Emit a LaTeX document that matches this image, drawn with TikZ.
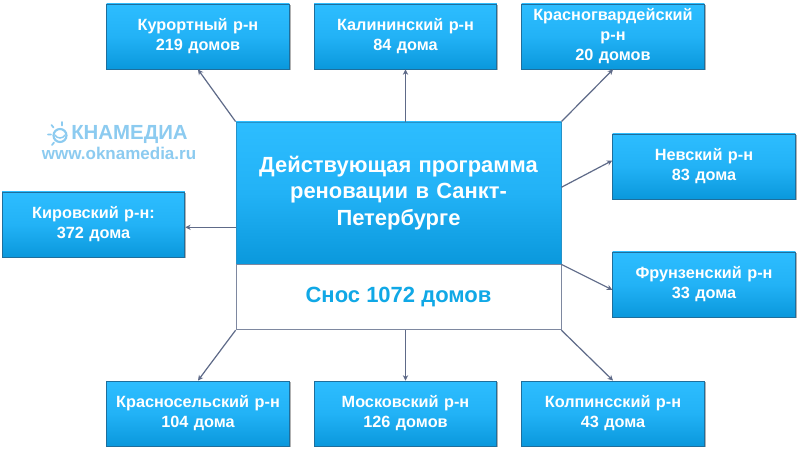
\documentclass[tikz,border=0pt]{standalone}
\usepackage{fontspec}
\setmainfont{Liberation Sans}
\usetikzlibrary{shadows,arrows.meta,calc}
\definecolor{boxtop}{HTML}{2DBDFF}
\definecolor{boxmid}{HTML}{22B2F6}
\definecolor{boxbot}{HTML}{0A98DC}
\definecolor{boxedge}{HTML}{1E6E9C}
\definecolor{linkc}{HTML}{5E6A88}
\definecolor{logoc}{HTML}{8CCBF0}
\definecolor{snosc}{HTML}{10A8E6}
\tikzset{
  x=0.75pt,y=-0.75pt,
  blue fill/.style={top color=boxtop,bottom color=boxbot,middle color=boxmid},
  distbox/.style={blue fill,draw=boxedge,line width=0.7pt,minimum width=137pt,minimum height=48.75pt,
    inner sep=0pt,align=center,text=white,font=\bfseries\fontsize{12.2pt}{15pt}\selectfont,text width=134pt,
    drop shadow={shadow xshift=0.9pt,shadow yshift=-0.9pt,fill=black,opacity=0.3}},
  link/.style={draw=linkc,line width=0.9pt,-{Stealth[length=4pt,width=4pt]}},
}
\begin{document}
\begin{tikzpicture}
\useasboundingbox (0,0) rectangle (800,449);
\fill[white] (0,0) rectangle (800,449);
% districts
\node[distbox] (kur) at (198,36.5) {Курортный р-н\\219 домов};
\node[distbox] (kal) at (405.5,36.5) {Калининский р-н\\84 дома};
\node[distbox] (gva) at (613,36.5) {Красногвардейский\\р-н\\20 домов};
\node[distbox] (nev) at (704,166.5) {Невский р-н\\83 дома};
\node[distbox] (fru) at (704,284.5) {Фрунзенский р-н\\33 дома};
\node[distbox] (kir) at (93.5,224.5) {Кировский р-н:\\372 дома};
\node[distbox] (sel) at (198,413.5) {Красносельский р-н\\104 дома};
\node[distbox] (mos) at (405.5,413.5) {Московский р-н\\126 домов};
\node[distbox] (kol) at (613,413.5) {Колпинсский р-н\\43 дома};
% centre
\node[blue fill,draw=boxedge!55!boxtop,line width=0.6pt,minimum width=243.75pt,minimum height=106.5pt,inner sep=0pt,
  text width=235pt,align=center,text=white,font=\bfseries\fontsize{16.45pt}{20pt}\selectfont] (main) at (398.5,193)
  {Действующая программа\\реновации в Санкт-\\Петербурге};
\node[draw=linkc!80,fill=white,line width=0.6pt,minimum width=243.75pt,minimum height=48.75pt,inner sep=0pt,
  text=snosc,font=\bfseries\fontsize{16.5pt}{18pt}\selectfont,anchor=north] (low) at (main.south) {Снос 1072 домов};
% connector free starts on the sides of the centre
\coordinate (nevs) at ($(main.north east)!0.46!(main.south east)$);
\coordinate (kirs) at ($(main.north west)!0.74!(main.south west)$);
\coordinate (kale) at (kal.south|-main.north);
\coordinate (mose) at (mos.north|-low.south);
\coordinate (nevt) at ($(nev.north west)!0.41!(nev.south west)$);
\coordinate (frut) at ($(fru.north west)!0.58!(fru.south west)$);
\coordinate (kirt) at (kir.east|-kirs);
\draw[link] (main.north west) -- (kur.south);
\draw[link] (kale) -- (kal.south);
\draw[link] (main.north east) -- (gva.south);
\draw[link] (nevs) -- (nevt);
\draw[link] (low.north east) -- (frut);
\draw[link] (kirs) -- (kirt);
\draw[link] (low.south west) -- (sel.north);
\draw[link] (mose) -- (mos.north);
\draw[link] (low.south east) -- (kol.north);
% logo
\node[text=logoc,font=\bfseries\fontsize{15.3pt}{16pt}\selectfont,inner sep=0pt,anchor=west] (logo) at (71,135) {КНАМЕДИА};
\node[text=logoc,font=\bfseries\fontsize{12.75pt}{13pt}\selectfont,inner sep=0pt] (url) at (119,153.5) {www.oknamedia.ru};
\draw[logoc,line width=1.6pt] (60,135.5) circle (6.5);
\draw[logoc,line width=1.1pt] (55,135) .. controls (57,139) and (63,139) .. (65,135);
\draw[logoc,line width=1.3pt,line cap=round] (48,134.5) -- (51,134.5) (51.5,125) -- (53.5,127.5) (62,122) -- (62,125.5) (52,145) -- (54,142.5);
\end{tikzpicture}
\end{document}
